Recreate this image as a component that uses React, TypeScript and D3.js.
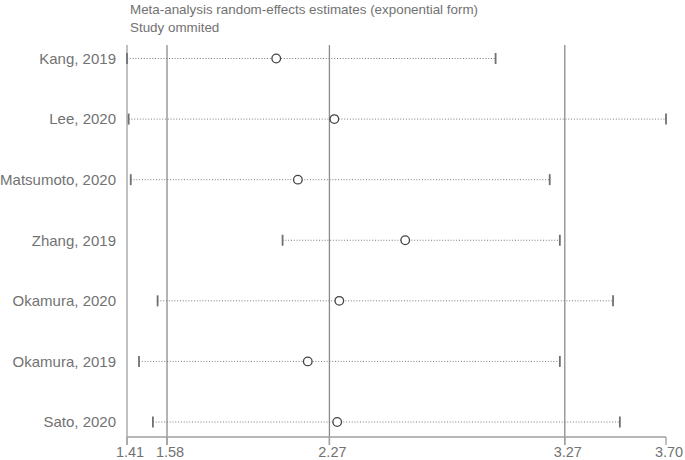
import React from "react";
import { scaleLinear, scalePoint } from "d3";

const studies = [
  "Kang, 2019",
  "Lee, 2020",
  "Matsumoto, 2020",
  "Zhang, 2019",
  "Okamura, 2020",
  "Okamura, 2019",
  "Sato, 2020",
];
const estimates = [2.044, 2.291, 2.136, 2.592, 2.312, 2.178, 2.303];
const lowers = [1.41, 1.417, 1.426, 2.071, 1.54, 1.461, 1.52];
const uppers = [2.976, 3.7, 3.206, 3.249, 3.475, 3.249, 3.504];
const refLines = [1.58, 2.27, 3.27];
const tickValues = [1.41, 1.58, 2.27, 3.27, 3.7];
const tickLabels = ["1.41", "1.58", "2.27", "3.27", "3.70"];
const titleLines = [
  "Meta-analysis random-effects estimates (exponential form)",
  "Study ommited",
];

export default function App() {
  const width = 685,
    height = 460,
    plotTop = 45,
    axisY = 437,
    x = scaleLinear().domain([1.41, 3.7]).range([127, 666]),
    y = scalePoint<string>().domain(studies).range([58.5, 422]),
    font = "'Liberation Sans', Arial, sans-serif",
    textColor = "#727272";

  return (
    <svg
      width={width}
      height={height}
      style={{ position: "absolute", left: 0, top: 0, background: "#fff" }}
      fontFamily={font}
    >
      {titleLines.map((t, i) => (
        <text key={t} x={130} y={14 + i * 18} fontSize={13.4} fill={textColor}>
          {t}
        </text>
      ))}

      {/* reference lines: overall estimate and its CI */}
      {refLines.map((v) => (
        <line
          key={v}
          x1={x(v)}
          x2={x(v)}
          y1={plotTop}
          y2={axisY + 8}
          stroke="#8c8c8c"
          strokeWidth={1.3}
        />
      ))}

      {/* left axis line */}
      <line
        x1={x(1.41)}
        x2={x(1.41)}
        y1={plotTop}
        y2={axisY + 8}
        stroke="#a0a0a0"
        strokeWidth={1.3}
      />

      {/* bottom axis */}
      <line
        x1={x(1.41)}
        x2={x(3.7)}
        y1={axisY}
        y2={axisY}
        stroke="#a0a0a0"
        strokeWidth={1.3}
      />
      {tickValues.map((v, i) => (
        <g key={v} transform={`translate(${x(v)},0)`}>
          <line y1={axisY} y2={axisY + 8} stroke="#a0a0a0" strokeWidth={1.3} />
          <text
            x={3}
            y={457}
            textAnchor="middle"
            fontSize={14.5}
            fill={textColor}
          >
            {tickLabels[i]}
          </text>
        </g>
      ))}

      {studies.map((s, i) => {
        const cy = y(s) as number;
        return (
          <g key={s}>
            <text
              x={116}
              y={cy}
              dy=".35em"
              textAnchor="end"
              fontSize={15}
              fill={textColor}
            >
              {s}
            </text>
            <line
              x1={x(lowers[i])}
              x2={x(uppers[i])}
              y1={cy}
              y2={cy}
              stroke="#7a7a7a"
              strokeWidth={1}
              strokeDasharray="1,1.8"
            />
            <line
              x1={x(lowers[i])}
              x2={x(lowers[i])}
              y1={cy - 5.5}
              y2={cy + 5.5}
              stroke="#707070"
              strokeWidth={1.8}
            />
            <line
              x1={x(uppers[i])}
              x2={x(uppers[i])}
              y1={cy - 5.5}
              y2={cy + 5.5}
              stroke="#707070"
              strokeWidth={1.8}
            />
            <circle
              cx={x(estimates[i])}
              cy={cy}
              r={4.3}
              fill="#fff"
              stroke="#444"
              strokeWidth={1.3}
            />
          </g>
        );
      })}
    </svg>
  );
}
